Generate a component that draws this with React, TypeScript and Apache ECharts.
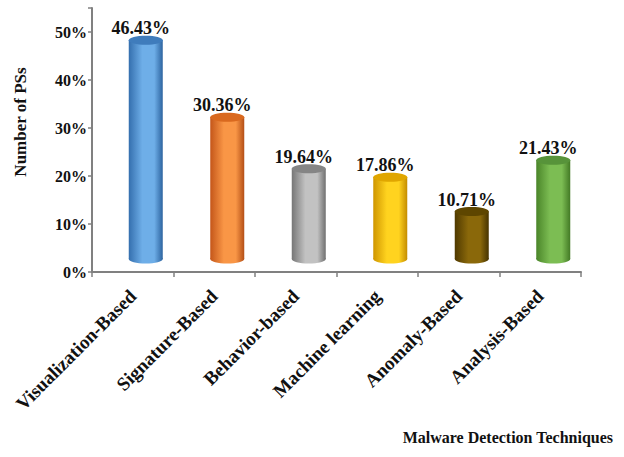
import React, { useEffect, useRef } from "react";
import * as echarts from "echarts";

const categories = [
  "Visualization-Based",
  "Signature-Based",
  "Behavior-based",
  "Machine learning",
  "Anomaly-Based",
  "Analysis-Based",
];
const values = [46.43, 30.36, 19.64, 17.86, 10.71, 21.43];
const yTickValues = [0, 10, 20, 30, 40, 50];
const yAxisTitle = "Number of PSs";
const xAxisTitle = "Malware Detection Techniques";

// [edge dark, highlight, right dark, top]
const barColors = [
  ["#346fae", "#6eaee8", "#2d64a0", "#3f7cbc"],
  ["#c4561a", "#f99646", "#b44f17", "#d9691f"],
  ["#767676", "#c2c2c2", "#707070", "#858585"],
  ["#cf9600", "#ffd31f", "#c48c00", "#e0a600"],
  ["#4f3900", "#8a680a", "#463300", "#5e4600"],
  ["#4a8529", "#7cbd53", "#437a25", "#57933a"],
];

const FONT = '"Liberation Serif", "Times New Roman", serif';

export default function App() {
  const ref = useRef<HTMLDivElement>(null);
  useEffect(() => {
    if (!ref.current) return;
    const chart = echarts.init(ref.current, null, { renderer: "svg" });
    const option = {
      animation: false,
      backgroundColor: "#ffffff",
      grid: { left: 92, right: 43, top: 8, bottom: 185, containLabel: false },
      xAxis: {
        type: "category",
        data: categories,
        axisLine: { show: true, lineStyle: { color: "#808080", width: 2 } },
        axisTick: { show: true, length: 5, lineStyle: { color: "#808080", width: 1.5 } },
        axisLabel: {
          rotate: 45,
          margin: 21,
          interval: 0,
          fontFamily: FONT,
          fontWeight: "bold",
          fontSize: 19,
          color: "#111111",
        },
      },
      yAxis: {
        type: "value",
        min: 0,
        max: 55,
        interval: 10,
        splitLine: { show: false },
        axisLine: { show: true, lineStyle: { color: "#808080", width: 2 } },
        axisTick: { show: true, length: 4, lineStyle: { color: "#808080", width: 1.5 } },
        axisLabel: {
          margin: 5,
          fontFamily: FONT,
          fontWeight: "bold",
          fontSize: 16,
          color: "#111111",
          formatter: (v: number) => (yTickValues.includes(Math.round(v)) && v <= 50 ? `${Math.round(v)}%` : ""),
        },
      },
      graphic: [
        {
          type: "text",
          x: 20,
          y: 122,
          rotation: Math.PI / 2,
          style: {
            text: yAxisTitle,
            fontFamily: FONT,
            fontWeight: "bold",
            fontSize: 17,
            fill: "#111111",
            textAlign: "center",
            textVerticalAlign: "middle",
          },
        },
        {
          type: "text",
          x: 613,
          y: 437,
          style: {
            text: xAxisTitle,
            fontFamily: FONT,
            fontWeight: "bold",
            fontSize: 16,
            fill: "#111111",
            textAlign: "right",
            textVerticalAlign: "middle",
          },
        },
      ],
      series: [
        {
          type: "custom",
          data: values.map((v, i) => [i, v]),
          renderItem: (params: any, api: any) => {
            const i = api.value(0);
            const v = api.value(1);
            const top = api.coord([i, v]);
            const base = api.coord([i, 0]);
            const w = 34;
            const ry = 4.5;
            const cx = top[0] + 13;
            const yTop = top[1] - 9;
            const yBot = base[1] - 13;
            const c = barColors[i % barColors.length];
            const grad = new echarts.graphic.LinearGradient(0, 0, 1, 0, [
              { offset: 0, color: c[0] },
              { offset: 0.4, color: c[1] },
              { offset: 0.75, color: c[1] },
              { offset: 1, color: c[2] },
            ]);
            return {
              type: "group",
              children: [
                { type: "ellipse", shape: { cx, cy: yBot, rx: w / 2, ry }, style: { fill: grad } },
                { type: "rect", shape: { x: cx - w / 2, y: yTop, width: w, height: yBot - yTop }, style: { fill: grad } },
                { type: "ellipse", shape: { cx, cy: yTop, rx: w / 2, ry }, style: { fill: c[3] } },
                {
                  type: "text",
                  style: {
                    text: `${v.toFixed(2)}%`,
                    x: cx - 5,
                    y: yTop - 12,
                    textAlign: "center",
                    textVerticalAlign: "middle",
                    fontFamily: FONT,
                    fontWeight: "bold",
                    fontSize: 18,
                    fill: "#111111",
                  },
                },
              ],
            };
          },
        },
      ],
    };
    chart.setOption(option as any);
    return () => chart.dispose();
  }, []);
  return <div ref={ref} style={{ width: 624, height: 457, position: "absolute", left: 0, top: 0 }} />;
}
